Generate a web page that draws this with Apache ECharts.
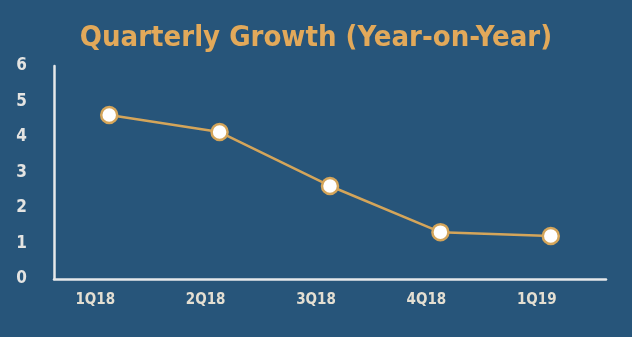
<!DOCTYPE html>
<html><head><meta charset="utf-8">
<script src="https://cdn.jsdelivr.net/npm/echarts@6/dist/echarts.min.js"></script>
<style>html,body{margin:0;padding:0;background:#27557a;}#c{width:632px;height:337px;}</style>
</head><body><div id="c"></div>
<script>
const categories = ['1Q18', '2Q18', '3Q18', '4Q18', '1Q19'];
const growth = [4.62, 4.14, 2.62, 1.32, 1.21];
const yTicks = [0, 1, 2, 3, 4, 5, 6];
const titleText = 'Quarterly Growth (Year-on-Year)';

const font = '"DejaVu Sans Condensed", "DejaVu Sans", sans-serif';
const chart = echarts.init(document.getElementById('c'), null, {renderer: 'canvas'});
chart.setOption({
  backgroundColor: '#27557a',
  animation: false,
  title: {
    text: titleText, left: 'center', top: 19,
    textStyle: {color: '#e2a95a', fontSize: 29, fontWeight: 'bold', fontFamily: font}
  },
  grid: {left: 54, right: 26, top: 66, bottom: 58, containLabel: false},
  xAxis: {
    type: 'category', data: categories, boundaryGap: true,
    axisLine: {show: true, lineStyle: {color: '#e6e8ea', width: 2.5}},
    axisTick: {show: false},
    axisLabel: {color: '#e4dfd2', fontSize: 15, fontWeight: 'bold', fontFamily: font, margin: 14, padding: [0, 28, 0, 0]},
    splitLine: {show: false}
  },
  yAxis: {
    type: 'value', min: yTicks[0], max: yTicks[yTicks.length - 1], interval: 1,
    axisLine: {show: true, lineStyle: {color: '#e6e8ea', width: 2.5}},
    axisTick: {show: false},
    axisLabel: {color: '#e4e4e2', fontSize: 17, fontWeight: 'bold', fontFamily: font, margin: 27},
    splitLine: {show: false}
  },
  series: [{
    type: 'line', data: growth,
    symbol: 'circle', symbolSize: 16,
    lineStyle: {color: '#d4a55a', width: 2.5},
    itemStyle: {color: '#ffffff', borderColor: '#d4a55a', borderWidth: 2.5}
  }]
});
</script></body></html>
